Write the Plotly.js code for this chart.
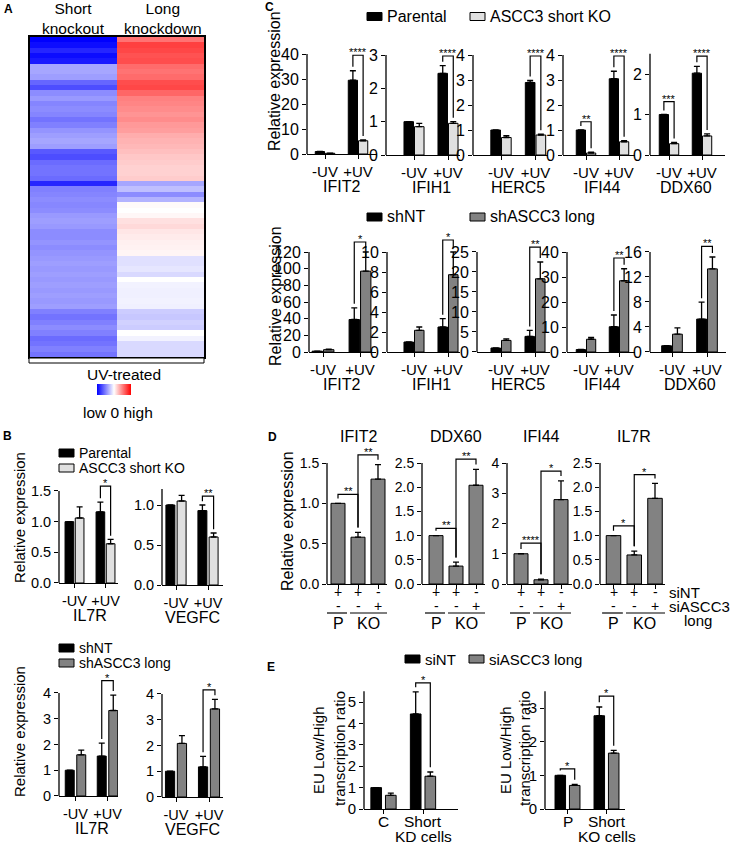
<!DOCTYPE html>
<html>
<head>
<meta charset="utf-8">
<script src="https://cdn.plot.ly/plotly-3.0.1.min.js"></script>
<style>html,body{margin:0;padding:0;background:#fff} #fig{width:739px;height:846px}</style>
</head>
<body>
<div id="fig"></div>
<script>
// ---------- data ----------

// A: heatmap, UV-treated, top row first
const heatShortKO = [
  -1.00, -0.95, -0.85, -0.95, -0.90, -0.35, -0.35, -0.38, -0.60, -0.70,
  -0.45, -0.40, -0.48, -0.45, -0.48, -0.55, -0.50, -0.42, -0.38, -0.35,
  -0.38, -0.65, -0.70, -0.58, -0.55, -0.55, -0.58, -0.85, -0.50, -0.48,
  -0.45, -0.47, -0.45, -0.40, -0.38, -0.40, -0.45, -0.45, -0.42, -0.45,
  -0.42, -0.40, -0.38, -0.40, -0.38, -0.40, -0.38, -0.40, -0.38, -0.40,
  -0.38, -0.50, -0.55, -0.50, -0.45, -0.50, -0.58, -0.55, -0.50, -0.55];
const heatLongKD = [
  0.55, 0.75, 0.72, 0.68, 0.70, 0.58, 0.55, 0.58, 0.70, 0.72,
  0.60, 0.50, 0.48, 0.45, 0.42, 0.45, 0.40, 0.38, 0.32, 0.30,
  0.28, 0.25, 0.22, 0.20, 0.18, 0.18, 0.20, -0.35, -0.25, -0.45,
  -0.30, 0.02, 0.00, 0.03, 0.12, 0.15, 0.10, 0.08, 0.06, 0.05,
  0.04, -0.12, -0.12, -0.10, -0.15, 0.00, -0.05, -0.06, -0.06, -0.05,
  -0.06, -0.20, -0.22, -0.18, -0.20, 0.00, -0.05, -0.15, -0.15, -0.15];

const uvCats = ['-UV', '+UV'];

// B: Parental vs ASCC3 short KO  ([-UV, +UV])
const bIL7RParental = [1.00, 1.16], bIL7RParentalErr = [0, 0.16];
const bIL7RShortKO = [1.06, 0.64], bIL7RShortKOErr = [0.18, 0.07];
const bVEGFCParental = [1.00, 0.93], bVEGFCParentalErr = [0, 0.07];
const bVEGFCShortKO = [1.05, 0.60], bVEGFCShortKOErr = [0.07, 0.05];
// B: shNT vs shASCC3 long
const bIL7RShNT = [1.00, 1.55], bIL7RShNTErr = [0, 0.50];
const bIL7RShLong = [1.60, 3.32], bIL7RShLongErr = [0.18, 0.60];
const bVEGFCShNT = [1.00, 1.17], bVEGFCShNTErr = [0, 0.41];
const bVEGFCShLong = [2.08, 3.42], bVEGFCShLongErr = [0.30, 0.37];

// C: genes, each entry [-UV, +UV]
const cGenes = ['IFIT2', 'IFIH1', 'HERC5', 'IFI44', 'DDX60'];
const cParental = [[1.00, 29.5], [1.00, 2.45], [1.00, 2.90], [1.00, 3.05], [1.00, 2.02]];
const cParentalErr = [[0, 3.8], [0, 0.23], [0, 0.08], [0, 0.30], [0, 0.17]];
const cShortKO = [[0.30, 5.3], [0.85, 0.95], [0.70, 0.80], [0.08, 0.53], [0.28, 0.47]];
const cShortKOErr = [[0.05, 0.3], [0.10, 0.05], [0.07, 0.03], [0.03, 0.04], [0.03, 0.05]];
const cShNT = [[1.00, 39.0], [1.00, 2.50], [1.00, 3.90], [1.00, 10.1], [1.00, 5.27]];
const cShNTErr = [[0, 14.0], [0, 0.83], [0, 1.50], [0, 4.70], [0, 2.70]];
const cShLong = [[2.80, 97.0], [2.17, 7.73], [2.90, 18.3], [5.10, 28.5], [2.85, 13.3]];
const cShLongErr = [[0.60, 23.0], [0.33, 2.27], [0.40, 4.20], [0.70, 4.80], [1.00, 1.90]];

// D: bars P siNT, KO siNT, KO siASCC3 long
const dGenes = ['IFIT2', 'DDX60', 'IFI44', 'IL7R'];
const dValues = [[1.00, 0.58, 1.30], [1.00, 0.37, 2.04], [1.00, 0.14, 2.79], [1.00, 0.60, 1.77]];
const dErrors = [[0, 0.06, 0.18], [0, 0.08, 0.33], [0, 0.02, 0.62], [0, 0.08, 0.31]];
const dSiNT = ['+', '+', '-'];
const dSiLong = ['-', '-', '+'];

// E: EU low/high transcription ratio
const eKDCats = ['C', 'Short'], eKDCats2 = ['', 'KD cells'];
const eKDSiNT = [1.00, 4.44], eKDSiNTErr = [0, 1.03];
const eKDSiLong = [0.64, 1.53], eKDSiLongErr = [0.10, 0.20];
const eKOCats = ['P', 'Short'], eKOCats2 = ['', 'KO cells'];
const eKOSiNT = [1.00, 2.77], eKOSiNTErr = [0, 0.26];
const eKOSiLong = [0.70, 1.66], eKOSiLongErr = [0.03, 0.08];

// ---------- page layout ----------
const W = 739, H = 846;
const FONT = 'Liberation Sans, Arial, Helvetica, sans-serif';
const BLACK = '#000000', LIGHT = '#e0e0e0', GREY = '#828282';

const traces = [], shapes = [], annotations = [];
const layout = {
  width: W, height: H,
  margin: {l: 0, r: 0, t: 0, b: 0, autoexpand: false},
  paper_bgcolor: 'white', plot_bgcolor: 'rgba(0,0,0,0)',
  font: {family: FONT, color: BLACK, size: 14},
  showlegend: false, barmode: 'overlay',
  shapes: shapes, annotations: annotations
};

const fx = px => px / W;
const fy = py => 1 - py / H;

function label(x, y, text, size, extra) {
  annotations.push(Object.assign({
    xref: 'paper', yref: 'paper', x: fx(x), y: fy(y), text: text, showarrow: false,
    font: {size: size}, xanchor: 'center', yanchor: 'middle'
  }, extra || {}));
}

// text placed at a data x of an axis, at a pixel row of the page
function axisText(xa, x, y, text, size) {
  annotations.push({xref: xa, yref: 'paper', x: x, y: fy(y), text: text, showarrow: false,
    xanchor: 'center', yanchor: 'middle', font: {size: size}});
}

function legendKey(x, y, color, text, size) {
  shapes.push({type: 'rect', xref: 'paper', yref: 'paper', x0: fx(x), x1: fx(x + 15),
    y0: fy(y + 4), y1: fy(y - 4), fillcolor: color, line: {color: BLACK, width: 1}});
  label(x + 18, y, text, size, {xanchor: 'left'});
}

function pair(y0, e0, col0, y1, e1, col1, w, gap) {
  return [
    {y: y0, err: e0, color: col0, width: w, offset: -gap / 2 - w},
    {y: y1, err: e1, color: col1, width: w, offset: gap / 2}
  ];
}

let axisCount = 1;
function barPlot(box, bars, stars, fs) {
  const n = ++axisCount;
  const xa = 'x' + n, ya = 'y' + n;
  const nc = box.cats.length;
  const xs = box.cats.map((c, i) => i);
  const ppu = (box.zero - box.tickPx) / box.tick;
  const sp = (box.c1 - box.c0) / (nc - 1);
  let top = box.axisTop;
  stars.forEach(s => { top = Math.max(top, s.top); });
  top *= 1.03;

  layout['xaxis' + n] = {
    domain: [fx(box.left), fx(box.right)], anchor: ya,
    range: [-(box.c0 - box.left) / sp, nc - 1 + (box.right - box.c1) / sp],
    tickvals: xs, ticktext: box.cats, showticklabels: box.showLabels !== false,
    ticks: 'outside', ticklen: 4, tickwidth: 1.3, tickcolor: BLACK,
    showline: true, linecolor: BLACK, linewidth: 1.3,
    showgrid: false, zeroline: false, tickfont: {size: fs}
  };
  layout['yaxis' + n] = {
    domain: [fy(box.zero), fy(box.zero - top * ppu)], anchor: xa,
    range: [0, top], tickvals: box.ticks, tickformat: box.fmt || '',
    ticks: 'outside', ticklen: 4, tickwidth: 1.3, tickcolor: BLACK,
    showline: false, showgrid: false, zeroline: false, tickfont: {size: box.yfs || fs}
  };
  // y axis line stops at the top tick, brackets sit above it
  shapes.push({type: 'line', xref: xa + ' domain', yref: ya, x0: 0, x1: 0, y0: 0, y1: box.axisTop,
    line: {color: BLACK, width: 1.3}});

  bars.forEach(b => traces.push({
    type: 'bar', x: xs, y: b.y, width: b.width, offset: b.offset, xaxis: xa, yaxis: ya,
    marker: {color: b.color, line: {color: BLACK, width: 1}},
    error_y: {type: 'data', array: b.err, arrayminus: b.err.map(() => 0), symmetric: false,
      color: BLACK, thickness: 1.3, width: 3}
  }));

  const pad = 0.04 * box.axisTop;
  const centre = (s, i) => i + bars[s].offset + bars[s].width / 2;
  const legBottom = (s, i) => bars[s].y[i] + bars[s].err[i] + pad;
  stars.forEach(s => {
    const x0 = centre(s.a[0], s.a[1]), x1 = centre(s.b[0], s.b[1]);
    const y0 = legBottom(s.a[0], s.a[1]), y1 = legBottom(s.b[0], s.b[1]);
    shapes.push({type: 'path', xref: xa, yref: ya,
      path: `M${x0},${y0} L${x0},${s.top} L${x1},${s.top} L${x1},${y1}`,
      line: {color: BLACK, width: 1.2}});
    annotations.push({xref: xa, yref: ya, x: (x0 + x1) / 2, y: s.top, text: s.text, showarrow: false,
      xanchor: 'center', yanchor: 'bottom', yshift: -5, font: {size: 11}});
  });

  if (box.gene) axisText(xa, (nc - 1) / 2, box.zero + 32, box.gene, box.geneSize || 16);
  return {xa: xa, ya: ya};
}

const pairStar = (cat, top, text) => ({a: [0, cat], b: [1, cat], top: top, text: text});

// ---------- A: heatmap ----------
traces.push({
  type: 'heatmap', xaxis: 'x', yaxis: 'y',
  z: heatShortKO.map((v, i) => [v, heatLongKD[i]]),
  x: [0, 1], y: heatShortKO.map((v, i) => i),
  colorscale: [[0, '#0000ff'], [0.5, '#ffffff'], [1, '#ff0000']], zmin: -1, zmax: 1,
  colorbar: {orientation: 'h', x: fx(97), xanchor: 'left', y: fy(384), yanchor: 'top',
    len: 34, lenmode: 'pixels', thickness: 11, thicknessmode: 'pixels', outlinewidth: 0,
    ticks: '', showticklabels: false, xpad: 0, ypad: 0}
});
layout.xaxis = {domain: [fx(30), fx(204)], anchor: 'y', range: [-0.5, 1.5], showticklabels: false, ticks: '',
  showline: true, mirror: true, linecolor: BLACK, linewidth: 1.5, showgrid: false, zeroline: false};
layout.yaxis = {domain: [fy(357), fy(37)], anchor: 'x', autorange: 'reversed', showticklabels: false, ticks: '',
  showline: true, mirror: true, linecolor: BLACK, linewidth: 1.5, showgrid: false, zeroline: false};
shapes.push({type: 'rect', xref: 'paper', yref: 'paper', x0: fx(29), x1: fx(204), y0: fy(363), y1: fy(358),
  fillcolor: 'white', line: {color: BLACK, width: 1}});
label(73, 19, 'Short<br>knockout', 15.5);
label(163, 19, 'Long<br>knockdown', 15.5);
label(124, 374, 'UV-treated', 15.5);
label(118, 412, 'low 0 high', 15.5);

// ---------- B ----------
legendKey(59, 453, BLACK, 'Parental', 14);
legendKey(59, 468, LIGHT, 'ASCC3 short KO', 14);
label(19, 518, 'Relative expression', 15, {textangle: -90});
barPlot({cats: uvCats, left: 59, right: 118, zero: 583, tickPx: 491, tick: 1.5, axisTop: 1.5,
  c0: 74.5, c1: 105.5, ticks: [0, 0.5, 1, 1.5], fmt: '.1f', gene: 'IL7R'},
  pair(bIL7RParental, bIL7RParentalErr, BLACK, bIL7RShortKO, bIL7RShortKOErr, LIGHT, 0.28, 0.05),
  [pairStar(1, 1.58, '*')], 14.5);
barPlot({cats: uvCats, left: 162, right: 223, zero: 585, tickPx: 505, tick: 1, axisTop: 1.2,
  c0: 176, c1: 208, ticks: [0, 0.5, 1], fmt: '.1f', gene: 'VEGFC'},
  pair(bVEGFCParental, bVEGFCParentalErr, BLACK, bVEGFCShortKO, bVEGFCShortKOErr, LIGHT, 0.28, 0.07),
  [pairStar(1, 1.11, '**')], 14.5);

legendKey(59, 648, BLACK, 'shNT', 14);
legendKey(59, 663, GREY, 'shASCC3 long', 14);
label(19, 732, 'Relative expression', 15, {textangle: -90});
barPlot({cats: uvCats, left: 59, right: 118, zero: 796, tickPx: 693, tick: 4, axisTop: 4,
  c0: 75.5, c1: 107.5, ticks: [0, 1, 2, 3, 4], gene: 'IL7R'},
  pair(bIL7RShNT, bIL7RShNTErr, BLACK, bIL7RShLong, bIL7RShLongErr, GREY, 0.28, 0.08),
  [pairStar(1, 4.48, '*')], 14.5);
barPlot({cats: uvCats, left: 162, right: 223, zero: 797, tickPx: 694, tick: 4, axisTop: 4,
  c0: 176, c1: 209, ticks: [0, 1, 2, 3, 4], gene: 'VEGFC'},
  pair(bVEGFCShNT, bVEGFCShNTErr, BLACK, bVEGFCShLong, bVEGFCShLongErr, GREY, 0.28, 0.08),
  [pairStar(1, 4.16, '*')], 14.5);

// ---------- C ----------
legendKey(367, 16.5, BLACK, 'Parental', 16);
legendKey(470, 16.5, LIGHT, 'ASCC3 short KO', 16);
label(275, 81, 'Relative expression', 16, {textangle: -90});
const cTopBoxes = [
  {left: 307, right: 377, zero: 154, tickPx: 54, tick: 40, axisTop: 40, c0: 325, c1: 358, ticks: [0, 10, 20, 30, 40]},
  {left: 386, right: 460, zero: 155, tickPx: 55, tick: 3, axisTop: 3, c0: 414, c1: 448, ticks: [0, 1, 2, 3]},
  {left: 473, right: 548, zero: 155, tickPx: 55, tick: 4, axisTop: 4, c0: 501, c1: 535.5, ticks: [0, 1, 2, 3, 4]},
  {left: 563, right: 635, zero: 155, tickPx: 55, tick: 4, axisTop: 4, c0: 586, c1: 619, ticks: [0, 1, 2, 3, 4]},
  {left: 650, right: 725, zero: 155, tickPx: 74, tick: 2, axisTop: 2.5, c0: 669, c1: 702, ticks: [0, 1, 2]}
];
const cTopStars = [
  [pairStar(1, 39.5, '****')],
  [pairStar(1, 2.97, '****')],
  [pairStar(1, 3.96, '****')],
  [pairStar(0, 1.33, '**'), pairStar(1, 3.96, '****')],
  [pairStar(0, 1.32, '***'), pairStar(1, 2.44, '****')]
];
cGenes.forEach((g, i) => {
  barPlot(Object.assign({cats: uvCats, gene: g, yfs: 16}, cTopBoxes[i]),
    pair(cParental[i], cParentalErr[i], BLACK, cShortKO[i], cShortKOErr[i], LIGHT, 0.28, 0.03),
    cTopStars[i], 15);
});

legendKey(367, 217, BLACK, 'shNT', 16);
legendKey(470, 217, GREY, 'shASCC3 long', 16);
label(275, 296, 'Relative expression', 16, {textangle: -90});
const cBotBoxes = [
  {left: 309, right: 376, c0: 323, c1: 360, tick: 120, ticks: [0, 20, 40, 60, 80, 100, 120]},
  {left: 387, right: 460, c0: 414, c1: 448, tick: 10, ticks: [0, 2, 4, 6, 8, 10]},
  {left: 477, right: 550, c0: 501, c1: 535, tick: 25, ticks: [0, 5, 10, 15, 20, 25]},
  {left: 567, right: 635, c0: 586, c1: 619, tick: 40, ticks: [0, 10, 20, 30, 40]},
  {left: 650, right: 726, c0: 672, c1: 707, tick: 16, ticks: [0, 4, 8, 12, 16]}
];
const cBotStars = [
  [pairStar(1, 132, '*')],
  [pairStar(1, 11.2, '*')],
  [pairStar(1, 26.2, '**')],
  [pairStar(1, 37.6, '**')],
  [pairStar(1, 16.9, '**')]
];
cGenes.forEach((g, i) => {
  const b = cBotBoxes[i];
  barPlot(Object.assign({cats: uvCats, gene: g, zero: 352, tickPx: 252, axisTop: b.tick, yfs: 16}, b),
    pair(cShNT[i], cShNTErr[i], BLACK, cShLong[i], cShLongErr[i], GREY, 0.28, 0.03),
    cBotStars[i], 15);
});

// ---------- D ----------
label(287, 521, 'Relative expression', 16, {textangle: -90});
const dBoxes = [
  {left: 327, right: 387, c0: 338, c1: 378, tick: 1.5, ticks: [0, 0.5, 1, 1.5], fmt: '.1f'},
  {left: 422, right: 485, c0: 436, c1: 476, tick: 2.5, ticks: [0, 0.5, 1, 1.5, 2, 2.5], fmt: '.1f'},
  {left: 507, right: 572, c0: 521, c1: 561, tick: 4, ticks: [0, 1, 2, 3, 4]},
  {left: 600, right: 665, c0: 613.5, c1: 655, tick: 2.5, ticks: [0, 0.5, 1, 1.5, 2, 2.5], fmt: '.1f'}
];
const dStars = [
  [[0, 1, 1.11, '**'], [1, 2, 1.60, '**']],
  [[0, 1, 1.15, '**'], [1, 2, 2.58, '**']],
  [[0, 1, 1.35, '****'], [1, 2, 3.73, '*']],
  [[0, 1, 1.20, '*'], [1, 2, 2.26, '*']]
];
dGenes.forEach((g, i) => {
  const b = dBoxes[i];
  const ax = barPlot(Object.assign({cats: ['P', 'KO', 'KO'], showLabels: false, zero: 584, tickPx: 463, axisTop: b.tick}, b),
    [{y: dValues[i], err: dErrors[i], color: GREY, width: 0.7, offset: -0.35}],
    dStars[i].map(s => ({a: [0, s[0]], b: [0, s[1]], top: s[2], text: s[3]})), 14);
  axisText(ax.xa, 1, 436, g, 16);
  [0, 1, 2].forEach(k => {
    axisText(ax.xa, k, 592, dSiNT[k], 14);
    axisText(ax.xa, k, 606, dSiLong[k], 14);
  });
  shapes.push({type: 'line', xref: ax.xa, yref: 'paper', x0: -0.55, x1: 0.45, y0: fy(613), y1: fy(613), line: {color: BLACK, width: 1.2}});
  shapes.push({type: 'line', xref: ax.xa, yref: 'paper', x0: 0.6, x1: 2.5, y0: fy(613), y1: fy(613), line: {color: BLACK, width: 1.2}});
  axisText(ax.xa, 0, 623, 'P', 16);
  axisText(ax.xa, 1.5, 623, 'KO', 16);
});
label(667, 592, 'siNT', 15, {xanchor: 'left'});
label(667, 606, 'siASCC3', 15, {xanchor: 'left'});
label(682, 620, 'long', 15, {xanchor: 'left'});

// ---------- E ----------
legendKey(405, 659, BLACK, 'siNT', 15);
legendKey(469, 659, GREY, 'siASCC3 long', 15);
label(318, 750, 'EU Low/High', 15, {textangle: -90});
label(339, 749, 'transcription ratio', 15, {textangle: -90});
label(505, 750, 'EU Low/High', 15, {textangle: -90});
label(524, 749, 'transcription ratio', 15, {textangle: -90});
const eKD = barPlot({cats: eKDCats, showLabels: false, left: 364, right: 458, zero: 809, tickPx: 702, tick: 5, axisTop: 5.5,
  c0: 383.5, c1: 423, ticks: [0, 1, 2, 3, 4, 5], yfs: 15},
  pair(eKDSiNT, eKDSiNTErr, BLACK, eKDSiLong, eKDSiLongErr, GREY, 0.27, 0.1),
  [pairStar(1, 5.89, '*')], 15);
const eKO = barPlot({cats: eKOCats, showLabels: false, left: 545, right: 625, zero: 809, tickPx: 708, tick: 3, axisTop: 3.5,
  c0: 567.5, c1: 606.5, ticks: [0, 1, 2, 3], yfs: 15},
  pair(eKOSiNT, eKOSiNTErr, BLACK, eKOSiLong, eKOSiLongErr, GREY, 0.27, 0.1),
  [pairStar(0, 1.19, '*'), pairStar(1, 3.35, '*')], 15);
[[eKD, eKDCats, eKDCats2], [eKO, eKOCats, eKOCats2]].forEach(e => {
  [0, 1].forEach(k => {
    axisText(e[0].xa, k, 821, e[1][k], 15.5);
    if (e[2][k]) axisText(e[0].xa, k, 836, e[2][k], 15.5);
  });
});

// panel letters
[['A', 8, 9], ['B', 7, 436], ['C', 269, 7], ['D', 272, 437], ['E', 271, 667]].forEach(p => {
  label(p[1], p[2], '<b>' + p[0] + '</b>', 12);
});

Plotly.newPlot('fig', traces, layout, {displayModeBar: false});
</script>
</body>
</html>
